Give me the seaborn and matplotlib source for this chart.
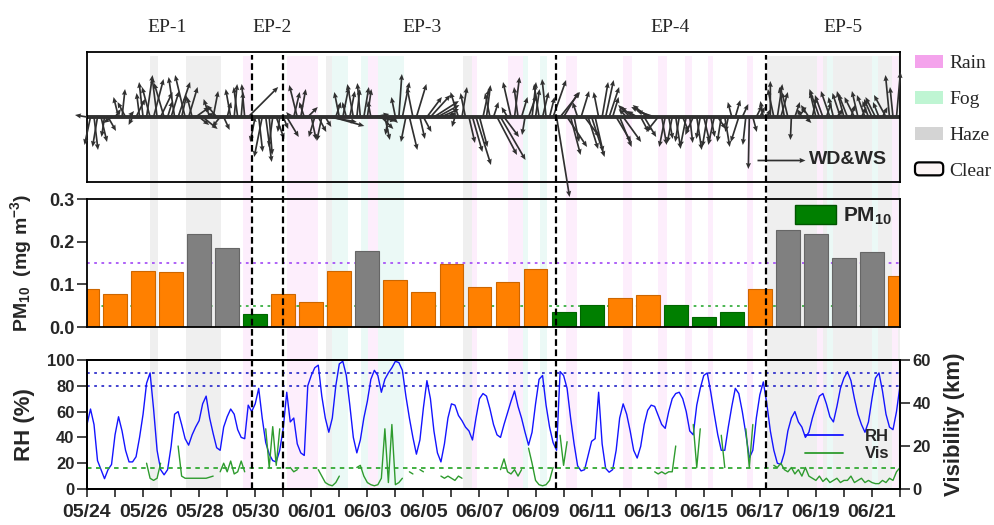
import numpy as np
import pandas as pd
import matplotlib
matplotlib.use("Agg")
import matplotlib.pyplot as plt
import seaborn as sns
from matplotlib.patches import Patch, FancyBboxPatch
from matplotlib.lines import Line2D
from matplotlib.legend_handler import HandlerPatch
from matplotlib.ticker import FixedLocator, FormatStrFormatter

sns.set_style("white")
plt.rcParams["font.family"] = ["Liberation Sans", "DejaVu Sans"]
plt.rcParams["mathtext.fontset"] = "custom"
plt.rcParams["mathtext.rm"] = "Liberation Sans:bold"
plt.rcParams["mathtext.bf"] = "Liberation Sans:bold"
plt.rcParams["mathtext.it"] = "Liberation Sans:bold:italic"
plt.rcParams["mathtext.default"] = "rm"

# ---------------- data ----------------
START = "2019-05-24"
N_DAYS = 29
STEP = 0.125  # 3-hourly samples (days)

# daily PM10 (mg m-3), one bar per day from 05/24 to 06/22
pm_day = list(range(30))
pm10 = [0.090, 0.077, 0.132, 0.128, 0.217, 0.184, 0.031, 0.078, 0.058, 0.132,
        0.177, 0.111, 0.081, 0.148, 0.093, 0.106, 0.135, 0.034, 0.052, 0.067,
        0.075, 0.052, 0.024, 0.034, 0.089, 0.227, 0.217, 0.162, 0.176, 0.120]
pm_level = ["mid", "mid", "mid", "mid", "high", "high", "low", "mid", "mid", "mid",
            "high", "mid", "mid", "mid", "mid", "mid", "mid", "low", "low", "mid",
            "mid", "low", "low", "low", "mid", "high", "high", "high", "high", "mid"]
pm_limit_hi = 0.15
pm_limit_lo = 0.05

# relative humidity (%), 3-hourly
rh = [50, 62, 50, 22, 15, 8, 15, 19,
      42, 56, 45, 30, 21, 21, 25, 40,
      58, 82, 90, 62, 30, 15, 11, 15,
      33, 58, 60, 50, 39, 34, 42, 48,
      53, 66, 72, 55, 43, 32, 30, 48,
      56, 62, 58, 46, 40, 39, 65, 60,
      66, 78, 55, 36, 27, 22, 21, 30,
      47, 75, 52, 55, 35, 28, 26, 80,
      88, 94, 96, 72, 55, 44, 55, 80,
      97, 99, 88, 65, 40, 28, 38, 55,
      68, 85, 92, 88, 75, 85, 90, 94,
      99, 98, 92, 72, 55, 40, 27, 38,
      63, 84, 70, 45, 28, 21, 35, 55,
      66, 65, 57, 53, 48, 45, 38, 55,
      70, 74, 72, 62, 50, 42, 40, 50,
      59, 68, 76, 64, 55, 44, 34, 44,
      66, 85, 88, 65, 48, 36, 30, 91,
      88, 78, 55, 35, 18, 14, 15, 26,
      37, 39, 75, 35, 16, 13, 15, 30,
      55, 66, 58, 45, 30, 24, 33, 50,
      61, 65, 64, 57, 50, 47, 60, 70,
      74, 75, 70, 60, 45, 42, 65, 78,
      88, 90, 75, 58, 42, 30, 30, 48,
      64, 78, 74, 60, 43, 24, 30, 55,
      73, 83, 66, 45, 30, 20, 19, 28,
      45, 55, 60, 52, 48, 40, 44, 55,
      64, 72, 74, 66, 56, 52, 64, 78,
      86, 91, 84, 70, 58, 50, 44, 52,
      70, 86, 90, 76, 58, 48, 46, 60,
      80]

nan = np.nan
# visibility (km), 3-hourly
vis = [nan, nan, nan, nan, nan, nan, nan, nan,
       nan, nan, nan, nan, nan, nan, nan, nan,
       nan, 12, 5, 4, 5, 12, nan, nan,
       nan, nan, 20, 6, 5, 5, 5, 5,
       5, 5, 5, 5.5, 6, nan, 8, 12,
       8, 13, 7, 8, 13, 8, nan, nan,
       nan, nan, nan, 28, 10, 29, 11, 28,
       nan, nan, 10, 8, 9, nan, nan, nan,
       nan, nan, 9, 6, 3, 2, 1.5, 3,
       6, nan, nan, nan, nan, 10, 11, 6,
       3, 2, 1.5, 2, 5, 28, 3, 30,
       2, 3, 5, nan, 8, 7, nan, 9,
       8, nan, 7, nan, nan, 6, 5, 6,
       5, 4, 6, 5, nan, nan, nan, nan,
       nan, nan, nan, nan, nan, nan, 9, 14,
       8, 7, 9, 6, 9, nan, 19, 12,
       4, 2, 1.5, 2, 4, 10, nan, 25,
       11, 22, nan, nan, nan, nan, nan, nan,
       nan, nan, nan, nan, nan, nan, nan, nan,
       nan, nan, nan, nan, nan, nan, nan, nan,
       nan, nan, 8, 7, 8, 7, 8, 8,
       20, nan, nan, nan, nan, 30, 10, 28,
       nan, nan, nan, nan, nan, 25, 10, nan,
       nan, nan, nan, nan, 28, 10, 30, nan,
       nan, nan, nan, nan, 11, 10, 12, 9,
       8, 10, 7, 9, 6, 10, 6, 5,
       4, 6, 3.5, 5, 3, 4, 5, 3,
       4, 4, 6, 3, 4, 5, 3, 4,
       3, 2.5, 2.5, 4, 3, 5, 4, 8,
       10]
rh_lines = [80, 90]
vis_limit = 10

# wind vectors (u east, v north), 3-hourly
wind_u = [-1.2, -0.6, 0.4, -0.5, 0.6, -0.3, 0.8, -0.8,
          0.6, -0.5, 0.3, -0.8, 0.5, -0.4, 0.9, -0.3,
          -0.4, 0.6, -0.8, 1.0, -0.5, 1.2, -1.0, 0.5,
          0.8, -0.6, 1.2, 0.5, -1.0, 0.9, -0.5, 1.4,
          1.0, 1.5, 0.8, -0.6, 0.5, -1.0, -0.8, 0.6,
          0.4, -0.5, 0.3, -0.4, 0.2, -0.3, 3.0, 0.5,
          -0.5, 0.4, -0.8, 0.6, 0.3, -0.4, 0.8, -0.2,
          0.5, 1.2, -0.4, 0.6, -0.8, 0.5, -0.5, 1.0,
          0.5, -0.6, 0.8, -0.5, 0.6, 2.8, 3.2, 0.5,
          -0.5, 0.6, -0.4, 0.5, -0.6, 0.3, -0.3, 0.5,
          0.4, -0.3, 1.5, 1.8, 1.2, 0.5, -0.3, 0.6,
          -0.4, 0.3, 0.7, -0.5, 0.8, -0.6, 1.0, 0.5,
          0.8, 1.5, 2.0, 2.5, 2.2, 1.8, 1.2, 0.8,
          0.5, -0.3, -0.8, 0.5, -0.5, 0.6, 1.0, 1.5,
          0.8, 0.6, 0.4, -0.5, 0.5, 2.0, 2.5, 1.5,
          -0.6, -0.8, 0.5, -0.4, 0.6, -0.3, 0.8, 0.4,
          0.4, -0.5, 0.6, -0.4, 0.5, 1.3, 1.3, 2.0,
          1.5, 2.0, 1.0, 0.5, -0.5, 0.8, 1.5, 1.0,
          1.3, 0.8, -0.5, 0.6, 0.8, 1.0, 0.6, 1.5,
          1.2, 1.8, -0.8, -1.2, -1.3, -1.0, 0.8, 1.2,
          -1.5, -2.0, -1.8, -1.2, 0.5, -0.6, 0.4, -0.5,
          0.5, -0.4, 0.6, -0.6, 0.3, -0.8, 0.5, -0.4,
          0.6, -0.5, 0.4, -0.6, 0.8, -0.4, 0.5, -0.3,
          -0.4, 0.5, -0.8, 0.6, -0.3, -0.1, 0.4, 0.6,
          0.5, -0.3, 0.4, 0.0, -0.6, 0.5, 0.7, -0.5,
          -0.6, -0.1, 0.5, 0.8, -0.5, 0.6, -0.8, 0.4,
          -0.6, -1.0, -0.8, 0.5, -0.9, -0.5, 0.6, -0.8,
          -0.7, -0.9, 0.4, -1.0, -0.6, 0.5, -0.8, -0.6,
          -0.8, -1.0, -0.6, 0.5, -1.2, -0.4, -0.3, 0.4]
wind_v = [0.2, -2.8, -3.3, -3.0, -2.5, -2.0, -1.4, -0.6,
          0.8, 2.0, 2.8, 1.5, 0.6, -0.8, 1.8, 2.4,
          3.5, 4.2, 3.0, 3.8, 4.0, 2.5, 3.4, 1.6,
          2.6, 4.0, 3.5, 2.2, 4.2, 3.0, 2.0, 1.0,
          -0.8, -1.2, 0.4, 1.8, 2.6, 1.2, -1.0, -1.3,
          1.5, 2.8, 3.3, 3.0, 2.5, 3.3, 3.0, -0.5,
          -2.5, -3.5, -4.0, -4.5, -3.8, -3.0, -2.2, -1.5,
          -1.2, -2.0, 0.5, 2.5, 3.2, 2.8, 1.5, 1.0,
          -2.3, -2.0, -1.5, -2.4, -1.0, -0.5, -0.9, 1.5,
          2.5, 3.0, 1.5, 2.6, 3.3, 2.8, 3.4, 3.0,
          2.8, 1.6, 0.3, -0.4, -1.2, -2.3, -1.8, -0.6,
          2.0, 4.3, 3.5, -2.5, -3.3, 3.0, 3.3, -2.2,
          -1.5, 2.0, 2.2, 1.6, 1.2, 0.8, 0.4, 0.2,
          0.3, -1.0, 2.5, 3.0, 2.4, -2.6, -3.5, -4.8,
          -3.0, 2.8, 3.2, 2.4, 1.5, -3.8, -4.3, -2.0,
          1.0, 3.5, 4.0, 3.0, 2.0, -1.8, 2.2, 3.5,
          2.8, 3.3, 2.5, 3.8, 2.0, 3.7, -8.0, 2.5,
          2.5, -3.0, -3.8, -2.5, 1.5, 2.6, -2.0, -3.2,
          -4.0, -3.5, 2.5, 3.5, 3.7, 3.0, 2.0, -2.5,
          -3.0, -2.5, 0.8, 1.2, 1.0, 0.6, -1.5, -2.0,
          1.2, 1.0, 0.6, -1.5, -2.8, -3.0, -2.2, -2.6,
          -3.2, -2.5, -1.5, -3.0, -2.6, -1.8, -3.3, -2.2,
          -2.5, -3.0, -2.0, -2.8, -1.2, -2.5, -3.0, -1.5,
          1.5, 1.7, -2.5, 1.3, -2.8, -5.2, -1.5, 1.2,
          1.0, 1.6, 0.8, 3.6, 2.8, 3.3, 2.5, 3.0,
          2.5, -2.3, 1.5, 1.0, 0.8, -0.6, 1.2, 2.0,
          2.5, 2.8, 2.2, 1.5, 2.6, 2.0, 0.8, 2.4,
          2.6, 2.3, 1.2, 2.0, 2.6, 1.0, 2.2, 1.6,
          1.8, 2.0, 1.5, 1.0, 2.2, 4.2, 3.0, 4.5]
wind_key = 4.8

# weather-type periods (days since 05/24 00:00)
haze_start = [2.25, 3.53, 8.53, 13.41, 24.26]
haze_end = [2.53, 4.78, 8.74, 13.74, 29.0]
rain_start = [5.57, 7.14, 10.03, 13.74, 15.02, 17.09, 19.12, 20.37, 21.33, 22.15, 23.55, 26.04, 28.72]
rain_end = [5.85, 8.24, 10.38, 13.91, 15.55, 17.48, 19.44, 20.69, 21.58, 22.33, 23.76, 26.26, 28.93]
fog_start = [8.74, 9.78, 10.38, 15.55, 16.16, 26.40, 28.00]
fog_end = [9.31, 10.03, 11.31, 15.73, 16.41, 26.61, 28.22]

episode_bounds = [5.875, 6.98, 16.74, 24.21]
episode_names = ["EP-1", "EP-2", "EP-3", "EP-4", "EP-5"]
episode_label_x = [2.85, 6.6, 11.95, 20.8, 26.97]

weather_names = ["Rain", "Fog", "Haze", "Clear"]

# ---------------- styles ----------------
C_ORANGE, C_GRAY, C_GREEN = "#FF8000", "#808080", "#007F00"
level_colors = {"mid": C_ORANGE, "high": C_GRAY, "low": C_GREEN}
C_RH, C_VIS = "#1414FF", "#2E9B2E"
BG = {"haze": "#EFEFEF", "rain": "#FDEEFC", "fog": "#EBF9F6"}
LEG = {"Rain": "#F4A3EC", "Fog": "#BFF5D3", "Haze": "#D4D4D4", "Clear": "#FBF4F4"}
SERIF = "Liberation Serif"

W_PX, H_PX = 995, 525
fig = plt.figure(figsize=(W_PX / 100, H_PX / 100), dpi=100)
L, R = 87, 900


def rect(top, bottom):
    return [L / W_PX, 1 - bottom / H_PX, (R - L) / W_PX, (bottom - top) / H_PX]


ax_bg = fig.add_axes(rect(56, 489), zorder=0)
ax_w = fig.add_axes(rect(52, 182), zorder=1)
ax_pm = fig.add_axes(rect(199, 327), zorder=1)
ax_rh = fig.add_axes(rect(360, 489), zorder=1)
ax_fg = fig.add_axes(rect(55, 489), zorder=4)

t_met = np.arange(len(rh)) * STEP
t_wind = np.arange(len(wind_u)) * STEP

# background shading
ax_bg.set_xlim(0, N_DAYS)
ax_bg.set_ylim(0, 1)
ax_bg.axis("off")
for s, e in zip(haze_start, haze_end):
    ax_bg.axvspan(s, e, color=BG["haze"], lw=0)
for s, e in zip(rain_start, rain_end):
    ax_bg.axvspan(s, e, color=BG["rain"], lw=0)
for s, e in zip(fog_start, fog_end):
    ax_bg.axvspan(s, e, color=BG["fog"], lw=0)

# foreground dashed episode lines
ax_fg.set_xlim(0, N_DAYS)
ax_fg.set_ylim(0, 1)
ax_fg.axis("off")
ax_fg.patch.set_alpha(0)
for b in episode_bounds:
    ax_fg.axvline(b, color="black", lw=1.6, ls=(0, (3, 1.6)))

for ax in (ax_w, ax_pm, ax_rh):
    ax.set_facecolor("none")
    for sp in ax.spines.values():
        sp.set_color("black")
        sp.set_linewidth(1.3)
    ax.set_xlim(0, N_DAYS)

# ---- wind panel ----
q = ax_w.quiver(t_wind, np.zeros(len(t_wind)), wind_u, wind_v, angles="uv",
                scale_units="y", scale=1, color="#303030", width=0.0021,
                headwidth=3.0, headlength=3.5, headaxislength=3.2, zorder=3)
q.set_clip_on(False)
ax_w.axhline(0, color="#303030", lw=2.8, zorder=2)
ax_w.set_ylim(-6.5, 6.5)
ax_w.set_xticks([])
ax_w.set_yticks([])
ax_w.quiverkey(q, X=(805 - L) / (R - L), Y=(182 - 160) / 130, U=wind_key,
               label="WD&WS", labelpos="E", coordinates="axes", labelsep=0.04,
               fontproperties={"weight": "bold", "size": 14, "family": "Liberation Sans"})
for x, name in zip(episode_label_x, episode_names):
    ax_w.text(x, 1.19, name, transform=ax_w.get_xaxis_transform(), ha="center",
              va="center", fontsize=14, family=SERIF)

# ---- PM10 panel ----
df_pm = pd.DataFrame({"day": pm_day, "pm": pm10, "level": pm_level})
ax_pm.axhline(pm_limit_hi, color="#A855F7", lw=1.3, ls=(0, (1.5, 2.5)), zorder=0.5)
ax_pm.axhline(pm_limit_lo, color="#3CB043", lw=1.3, ls=(0, (1.5, 2.5)), zorder=0.5)
sns.barplot(data=df_pm, x="day", y="pm", hue="level", palette=level_colors,
            native_scale=True, width=0.85, dodge=False, legend=False,
            errorbar=None, saturation=1, ax=ax_pm, zorder=2)
for p in ax_pm.patches:
    fc = np.array(p.get_facecolor())
    p.set_edgecolor(tuple(np.r_[fc[:3] * 0.8, 1]))
    p.set_linewidth(0.8)
ax_pm.set_xlim(0, N_DAYS)
ax_pm.set_ylim(0, 0.3)
ax_pm.set_xticks([])
ax_pm.set_xlabel("")
ax_pm.set_yticks([0, 0.1, 0.2, 0.3])
ax_pm.yaxis.set_major_formatter(FormatStrFormatter("%.1f"))
ax_pm.tick_params(axis="y", left=True, length=7, width=1.2, labelsize=13, pad=2)
ax_pm.set_ylabel("PM$_{10}$  (mg m$^{-3}$)", fontsize=14, fontweight="bold")
ax_pm.yaxis.set_label_coords((34 - L) / (R - L), 0.5)
ax_pm.legend(handles=[Patch(facecolor=C_GREEN, edgecolor="#005500")],
             labels=["PM$_{10}$"], loc="upper right", frameon=False,
             bbox_to_anchor=((892 - L) / (R - L), (327 - 205) / 128),
             prop={"weight": "bold", "size": 15}, handlelength=2.0,
             handleheight=1.0, handletextpad=0.3, borderpad=0, borderaxespad=0)

# ---- RH / visibility panel ----
for lv in rh_lines:
    ax_rh.axhline(lv, color="#3333CC", lw=1.3, ls=(0, (1.5, 2.5)), zorder=0.5)
sns.lineplot(x=t_met, y=rh, ax=ax_rh, color=C_RH, lw=1.0, errorbar=None, zorder=2)
ax_rh.set_ylim(0, 100)
ax_rh.set_yticks(range(0, 101, 20))
ax_rh.set_ylabel("RH (%)", fontsize=16, fontweight="bold")
ax_rh.yaxis.set_label_coords((35 - L) / (R - L), 0.5)

ax_vis = ax_rh.twinx()
ax_vis.set_zorder(1.5)
df_vis = pd.DataFrame({"t": t_met, "vis": vis})
df_vis["seg"] = df_vis["vis"].isna().cumsum()
df_vis = df_vis.dropna()
ax_vis.axhline(vis_limit, color="#33AA33", lw=1.3, ls=(0, (2.5, 2.5)), zorder=0.5)
sns.lineplot(data=df_vis, x="t", y="vis", units="seg", estimator=None,
             color=C_VIS, lw=1.0, ax=ax_vis, zorder=2)
ax_vis.set_ylim(0, 60)
ax_vis.set_yticks([0, 20, 40, 60])
ax_vis.set_ylabel("Visibility (km)", fontsize=16, fontweight="bold")
ax_vis.yaxis.set_label_coords((944 - L) / (R - L), 0.5)
ax_vis.tick_params(axis="y", right=True, length=7, width=1.2, labelsize=12, pad=2)
for sp in ax_vis.spines.values():
    sp.set_color("black")
    sp.set_linewidth(1.3)
ax_vis.set_xlim(0, N_DAYS)

major_days = list(range(0, N_DAYS, 2))
minor_days = list(range(1, N_DAYS + 1, 2))
major_labels = [d.strftime("%m/%d") for d in
                pd.date_range(START, periods=len(major_days), freq="2D")]
ax_rh.xaxis.set_major_locator(FixedLocator(major_days))
ax_rh.xaxis.set_minor_locator(FixedLocator(minor_days))
ax_rh.set_xticklabels(major_labels)
ax_rh.tick_params(axis="x", which="both", bottom=True, length=6, width=1.2,
                  labelsize=14, pad=5)
ax_rh.tick_params(axis="y", left=True, length=7, width=1.2, labelsize=12, pad=2)
ax_rh.set_xlabel("")
ax_vis.set_xlabel("")

ax_vis.legend(handles=[Line2D([], [], color=C_RH, lw=1.3), Line2D([], [], color=C_VIS, lw=1.3)],
              labels=["RH", "Vis"], loc="upper left", frameon=False,
              bbox_to_anchor=((805 - L) / (R - L), (489 - 429) / 129),
              prop={"weight": "bold", "size": 12}, handlelength=2.3,
              handletextpad=1.3, labelspacing=0.15, borderpad=0, borderaxespad=0)

for ax in (ax_pm, ax_rh, ax_vis):
    for lab in ax.get_xticklabels() + ax.get_yticklabels():
        lab.set_fontweight("bold")


# ---- weather-type legend ----
class RoundHandler(HandlerPatch):
    def create_artists(self, legend, orig_handle, xdescent, ydescent, width,
                       height, fontsize, trans):
        p = FancyBboxPatch((-xdescent, -ydescent), width, height,
                           boxstyle="round,pad=0,rounding_size=3",
                           facecolor=orig_handle.get_facecolor(),
                           edgecolor="black", lw=1.6, transform=trans)
        return [p]


w_handles = [Patch(facecolor=LEG[n], edgecolor="none") for n in weather_names[:3]]
clear_h = Patch(facecolor=LEG["Clear"], edgecolor="black")
w_handles.append(clear_h)
fig.legend(handles=w_handles, labels=weather_names, loc="upper left",
           bbox_to_anchor=(915 / W_PX, 1 - 55 / H_PX), frameon=False,
           prop={"family": SERIF, "size": 14}, handlelength=1.45,
           handleheight=0.65, handletextpad=0.3, labelspacing=0.95,
           borderpad=0, borderaxespad=0,
           handler_map={clear_h: RoundHandler()})

fig.savefig("out.png", dpi=100)
